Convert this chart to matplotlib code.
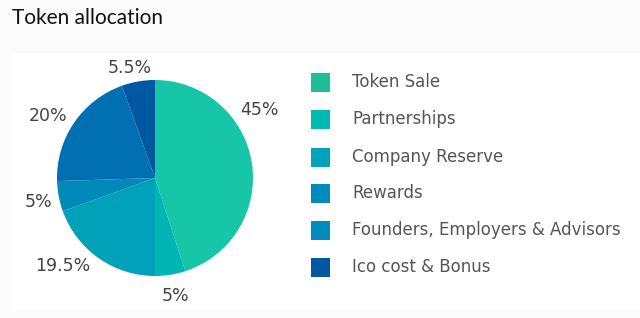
import numpy as np
import matplotlib
matplotlib.use("Agg")
import matplotlib.pyplot as plt
from matplotlib.patches import Rectangle

# data
categories = ["Token Sale", "Partnerships", "Company Reserve", "Rewards",
              "Founders, Employers & Advisors", "Ico cost & Bonus"]
shares = [45, 5, 19.5, 5, 20, 5.5]
pct_labels = ["45%", "5%", "19.5%", "5%", "20%", "5.5%"]
colors = ["#17c6a6", "#00b5b3", "#00a1b9", "#0089b9", "#0070b2", "#0058a0"]
legend_colors = ["#1fbd98", "#00b9b0", "#00a2bc", "#008abe", "#008abe", "#0058a0"]

W, H = 640, 318
fig = plt.figure(figsize=(W / 100, H / 100), dpi=100, facecolor="#fbfbfb")

# white panel
fig.patches.append(Rectangle((12 / W, 1 - 311 / H), 1, (311 - 53) / H,
                             transform=fig.transFigure, facecolor="white",
                             edgecolor="none", zorder=-1))

fig.text(12 / W, 1 - 18 / H, "Token allocation", fontsize=15,
         family="Lato", color="#111111", va="center", ha="left")

# pie: centre (155,178) px, radius 98 px
r_px = 98
half = 1.5 * r_px
ax = fig.add_axes([(155 - half) / W, (H - 178 - half) / H, 2 * half / W, 2 * half / H])
ax.set_zorder(2)
ax.patch.set_visible(False)

wedges, _ = ax.pie(shares, colors=colors, startangle=90, counterclock=False,
                   radius=1, wedgeprops=dict(linewidth=0))
ax.set_xlim(-1.5, 1.5)
ax.set_ylim(-1.5, 1.5)
ax.set_aspect("equal")
ax.axis("off")

# label angle tweaks (degrees) and distances, to follow the original placement
angle_shift = [24, 1, -11, 1, 4, 3]
dist = [1.27, 1.22, 1.30, 1.21, 1.26, 1.15]
for w, lab, da, d in zip(wedges, pct_labels, angle_shift, dist):
    a = np.deg2rad((w.theta1 + w.theta2) / 2 + da)
    ax.text(d * np.cos(a), d * np.sin(a), lab, ha="center", va="center",
            fontsize=12.5, color="#444444", family="DejaVu Sans")

# legend
ys = [82, 119, 157, 193, 230, 267]
for name, c, y in zip(categories, legend_colors, ys):
    fig.patches.append(Rectangle((311 / W, 1 - (y + 10) / H), 19 / W, 19 / H,
                                 transform=fig.transFigure, facecolor=c,
                                 edgecolor="none"))
    fig.text(352 / W, 1 - y / H, name, fontsize=12, family="DejaVu Sans",
             color="#555555", va="center", ha="left")

fig.savefig("out.png", dpi=100, facecolor=fig.get_facecolor())
